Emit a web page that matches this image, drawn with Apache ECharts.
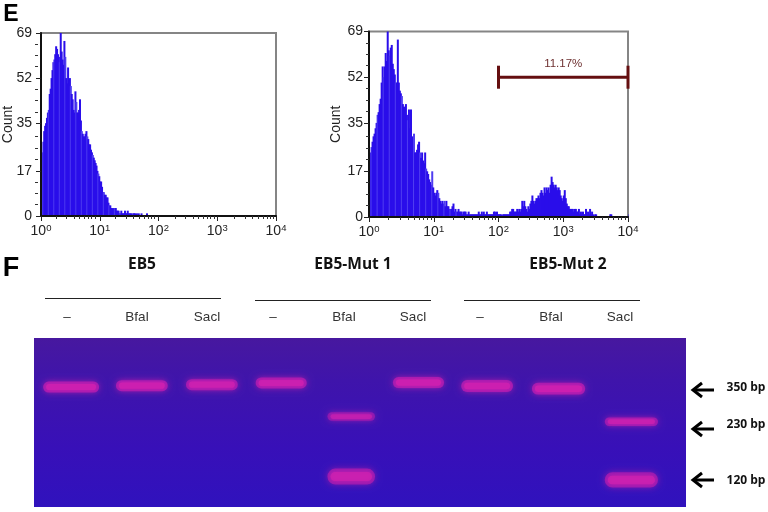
<!DOCTYPE html>
<html><head><meta charset="utf-8">
<style>html,body{margin:0;padding:0;background:#fff}#c{width:768px;height:512px}</style>
<script src="https://cdn.jsdelivr.net/npm/echarts@6/dist/echarts.min.js"></script>
</head><body><div id="c"></div>
<script>
// Histogram counts per channel (64 channels per decade, 256 in total)
const countsEB5 = [23,24,28,32,34,35,37,39,40,46,48,52,55,58,59,61,64,63,61,60,58,69,62,59,57,66,60,52,50,56,50,52,49,46,44,40,39,47,43,39,39,40,44,36,32,31,30,30,31,32,30,29,27,27,25,24,23,22,21,20,19,17,16,15,13,13,11,9,9,8,8,7,7,5,4,4,3,3,2,3,3,3,2,2,2,1,1,2,1,1,1,2,1,1,2,1,1,1,1,0,1,1,1,0,1,0,1,0,0,1,0,0,0,0,0,1];
const countsMut = [22,24,26,28,30,31,33,35,38,39,42,44,50,56,52,56,61,58,69,62,60,63,64,57,55,53,50,50,66,50,47,46,45,42,41,41,42,38,36,40,33,40,30,29,31,24,24,25,27,28,24,22,24,21,20,24,18,17,16,14,13,12,17,11,9,8,9,10,9,7,6,5,6,5,6,4,6,4,4,3,3,3,4,5,2,3,2,2,3,2,2,2,1,2,2,2,1,1,2,1,1,1,1,1,1,1,1,1,2,1,1,2,1,2,1,1,2,1,1,1,1,1,1,2,2,1,2,1,1,1,1,0,1,1,1,1,1,1,1,2,2,3,3,2,2,2,3,2,3,2,3,6,4,6,4,3,2,4,3,5,6,8,6,5,6,7,7,8,7,9,10,9,8,11,9,11,10,11,9,12,15,13,12,11,12,11,10,11,10,8,7,6,8,10,7,5,4,4,3,3,3,3,2,3,3,2,2,3,1,2,1,2,1,1,3,1,2,1,3,1,2,1,0,1,1,0,0,0,0,0,0,0,0,0,0,0,0,0,1,1,0,0,0,0,0,0,0,0,0,0,0,0,0,0,0,0,0,1];
const countTicks = [0,17,35,52,69];
const countMinorTicks = [4.3,8.6,12.9,21.3,25.6,30,39.3,43.6,47.8,56.3,60.6,64.8];
const decadeExponents = ['0','1','2','3','4'];
const gateChannels = [128,256];
const gateLevel = 52;
const gateLabel = '11.17%';

// Gel bands: lane position, migration distance, width, thickness (axis units), brightness
const bandLane = [0.53,1.54,2.54,3.53,4.53,4.53,5.49,6.47,7.49,8.53,8.53];
const bandMigration = [0.29,0.282,0.276,0.266,0.465,0.82,0.264,0.284,0.30,0.495,0.84];
const bandWidth = [0.80,0.74,0.74,0.73,0.68,0.68,0.73,0.74,0.76,0.76,0.76];
const bandThickness = [0.065,0.065,0.065,0.065,0.05,0.095,0.065,0.07,0.07,0.05,0.09];
const bandBright = [0.95,0.95,0.9,0.9,0.65,0.8,0.95,0.95,0.95,0.8,0.8];
const groupNames = ['EB5','EB5-Mut 1','EB5-Mut 2'];
const laneNameShown = ['\u2013','Bfal','Sacl','\u2013','Bfal','Sacl','\u2013','Bfal','Sacl'];
const sizeNames = ['350 bp','230 bp','120 bp'];

const AR = 'Liberation Sans, Arial, sans-serif';
const minorChan = [];
for (let d=0;d<4;d++) for (let k=2;k<10;k++) minorChan.push((d+Math.log10(k))*64);

const plots = [
  {left:38,top:33,width:238,height:183,data:countsEB5,labelGap:9,nameGap:26},
  {left:369,top:31.5,width:259,height:185.5,data:countsMut,labelGap:6,nameGap:26}
];
const grid=[],xAxis=[],yAxis=[],series=[];
plots.forEach((p,i)=>{
  grid.push({left:p.left,top:p.top,width:p.width,height:p.height,show:true,backgroundColor:'#fff',borderColor:'#858585',borderWidth:2,z:0});
  const g=grid.length-1;
  xAxis.push({gridIndex:g,type:'value',min:0,max:256,interval:64,z:5,splitLine:{show:false},
    axisLine:{onZero:false,lineStyle:{color:'#111',width:2}},axisTick:{length:5,lineStyle:{color:'#222',width:1}},
    axisLabel:{margin:7,color:'#222',fontFamily:AR,hideOverlap:false,showMinLabel:true,showMaxLabel:true,
      formatter:v=>'{b|10}{s|'+decadeExponents[v/64]+'}',
      rich:{b:{fontSize:14,fontFamily:AR,color:'#222'},s:{fontSize:9.5,fontFamily:AR,color:'#222',verticalAlign:'bottom',padding:[0,0,6,0]}}}});
  yAxis.push({gridIndex:g,type:'value',min:0,max:69,z:5,splitLine:{show:false},name:'Count',nameLocation:'middle',nameGap:p.nameGap,nameMoveOverlap:false,
    nameTextStyle:{fontSize:14,fontFamily:AR,color:'#222'},
    axisLine:{onZero:false,lineStyle:{color:'#111',width:2}},axisTick:{length:5,customValues:countTicks,lineStyle:{color:'#222'}},
    axisLabel:{margin:p.labelGap,fontSize:14,fontFamily:AR,color:'#222',customValues:countTicks}});
  series.push({type:'bar',xAxisIndex:g,yAxisIndex:g,barWidth:2,silent:true,z:2,animation:false,
    data:p.data.map((v,ch)=>[ch+0.5,v]),
    itemStyle:{color:o=>(o.dataIndex%6===2&&o.dataIndex<90)?'#4f3df0':'#2a0eea'}});
  // overlay grid carrying the short minor ticks
  grid.push({left:p.left,top:p.top,width:p.width,height:p.height,show:false});
  const m=grid.length-1;
  xAxis.push({gridIndex:m,type:'value',min:0,max:256,splitLine:{show:false},axisLine:{show:false,onZero:false},axisLabel:{show:false},z:5,
    axisTick:{length:3,customValues:minorChan,lineStyle:{color:'#333'}}});
  yAxis.push({gridIndex:m,type:'value',min:0,max:69,splitLine:{show:false},axisLine:{show:false,onZero:false},axisLabel:{show:false},z:5,
    axisTick:{length:3,customValues:countMinorTicks,lineStyle:{color:'#333'}}});
});
// gate marker on the right histogram (grid index 2)
series.push({type:'custom',xAxisIndex:2,yAxisIndex:2,silent:true,z:6,clip:false,animation:false,
  data:[[gateChannels[0],gateChannels[1],gateLevel]],
  renderItem:(params,api)=>{
    const a=api.coord([api.value(0),api.value(2)]), b=api.coord([api.value(1),api.value(2)]);
    const st={stroke:'#650f10',lineWidth:3,fill:null};
    return {type:'group',children:[
      {type:'line',shape:{x1:a[0],y1:a[1],x2:b[0],y2:b[1]},style:st},
      {type:'line',shape:{x1:a[0],y1:a[1]-11.5,x2:a[0],y2:a[1]+11.5},style:st},
      {type:'line',shape:{x1:b[0],y1:b[1]-11.5,x2:b[0],y2:b[1]+11.5},style:st},
      {type:'text',style:{text:gateLabel,x:(a[0]+b[0])/2,y:a[1]-13,align:'center',verticalAlign:'middle',fontSize:11.5,fontFamily:AR,fill:'#6e3030'}}
    ]};
  }});
// gel
grid.push({left:34,top:338,width:652,height:169,show:true,borderWidth:0,z:0,
  backgroundColor:new echarts.graphic.LinearGradient(0,0,0,1,[{offset:0,color:'#47189f'},{offset:0.25,color:'#3f14ab'},{offset:0.65,color:'#3810b8'},{offset:1,color:'#3012bd'}])});
const gg=grid.length-1;
xAxis.push({gridIndex:gg,type:'value',min:0,max:9.31,show:false});
yAxis.push({gridIndex:gg,type:'value',min:0,max:1,inverse:true,show:false});
series.push({type:'custom',xAxisIndex:gg,yAxisIndex:gg,silent:true,animation:false,z:3,
  data:bandLane.map((l,i)=>[l,bandMigration[i],bandWidth[i],bandThickness[i],bandBright[i]]),
  renderItem:(params,api)=>{
    const c=api.coord([api.value(0),api.value(1)]), s=api.size([api.value(2),api.value(3)]), o=api.value(4);
    const shape={x:c[0]-s[0]/2,y:c[1]-s[1]/2,width:s[0],height:s[1],r:s[1]/2};
    return {type:'group',children:[
      {type:'rect',shape,style:{fill:'#a81ab0',opacity:o,shadowBlur:7,shadowColor:'#9a18a8'}},
      {type:'rect',shape:{x:shape.x+3,y:c[1]-s[1]*0.28,width:s[0]-6,height:s[1]*0.56,r:s[1]*0.28},style:{fill:'#cc20b0',opacity:o,shadowBlur:4,shadowColor:'#cc20b0'}}
    ]};
  }});

const graphic=[];
const T=(text,x,y,o)=>graphic.push({type:'text',x,y,silent:true,style:Object.assign({text,align:'center',verticalAlign:'middle',fontFamily:AR,fill:'#222',fontSize:13},o||{})});
T('E',11,15,{fontWeight:'bold',fontSize:23,fill:'#000'});
T('F',11,269,{fontWeight:'bold',fontSize:27,fill:'#000'});
const CAL='Open Sans, sans-serif';
[142,353,568].forEach((x,i)=>T(groupNames[i],x,265,{fontWeight:'bold',fontSize:15.5,fontFamily:CAL,fill:'#111'}));
[[45,221,298.5],[255,431,300.5],[464,640,300.5]].forEach(l=>graphic.push({type:'line',silent:true,shape:{x1:l[0],y1:l[2],x2:l[1],y2:l[2]},style:{stroke:'#222',lineWidth:1.2}}));
[67,137,207,273,344,413,480,551,620].forEach((x,i)=>T(laneNameShown[i],x,317,{fontSize:13.5,fill:'#333'}));
[[390,388],[429,425],[480,481]].forEach((r,i)=>{
  graphic.push({type:'polyline',silent:true,shape:{points:[[714,r[0]],[693,r[0]]]},style:{stroke:'#000',lineWidth:3,fill:null}});
  graphic.push({type:'polyline',silent:true,shape:{points:[[702,r[0]-7],[693,r[0]],[702,r[0]+7]]},style:{stroke:'#000',lineWidth:3,fill:null}});
  T(sizeNames[i],746,r[1],{fontWeight:'bold',fontSize:12,fontFamily:CAL,fill:'#111'});
});

const chart=echarts.init(document.getElementById('c'),null,{renderer:'canvas'});
chart.setOption({animation:false,backgroundColor:'#fff',grid,xAxis,yAxis,series,graphic});
</script></body></html>
